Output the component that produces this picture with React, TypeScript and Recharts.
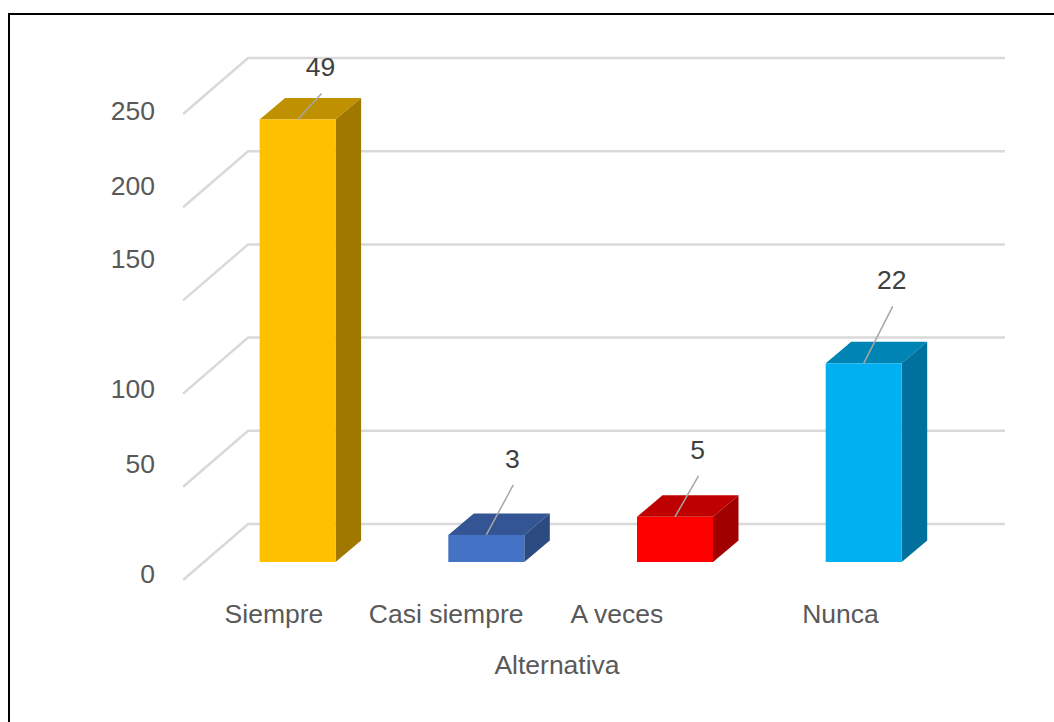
import { Bar, CartesianGrid, ComposedChart, Label, LabelList, Line, XAxis, YAxis } from 'recharts'

const categories = ['Siempre', 'Casi siempre', 'A veces', 'Nunca']
const frecuencia = [49, 3, 5, 22]
const wallTicks = [0, 50, 100, 150, 200, 250]

const faceColors = ['#FFC000', '#4472C4', '#FF0000', '#00B0F0']
const topColors = ['#BF9000', '#335593', '#BF0000', '#0084B4']
const sideColors = ['#A07800', '#2A4A80', '#A00000', '#00719C']

// hand placed labels: how far each one sits from where the axis would put it
const yLabelShift = [50, 33, 51, 15, 35, 53]
const xLabelShift = [-24, -40.5, -58.5, -23.5]
const leaderShift = [
  [24, -26],
  [27, -50],
  [23.5, -41],
  [29, -57],
]

const DEPTH_X = 25.5
const DEPTH_Y = 21.5
const FONT = '"Liberation Sans", Arial, sans-serif'
const FONT_SIZE = 26.5

const data = categories.map((name, i) => ({ name, frecuencia: frecuencia[i] }))

const Column3D = (props: any) => {
  const { x, y, width, height, index } = props
  const right = x + width
  const bottom = y + height
  return (
    <g>
      <polygon
        points={`${x},${y} ${x + DEPTH_X},${y - DEPTH_Y} ${right + DEPTH_X},${y - DEPTH_Y} ${right},${y}`}
        fill={topColors[index]}
      />
      <polygon
        points={`${right},${y} ${right + DEPTH_X},${y - DEPTH_Y} ${right + DEPTH_X},${bottom - DEPTH_Y} ${right},${bottom}`}
        fill={sideColors[index]}
      />
      <rect x={x} y={y} width={width} height={height} fill={faceColors[index]} />
    </g>
  )
}

// back wall line plus the diagonal running forward along the side wall
const WallLine = (props: any) => {
  const { x1, x2, y1 } = props
  const left = Math.min(x1, x2) + 44.5
  const right = Math.max(x1, x2) + 46.5
  return (
    <polyline
      key={y1}
      points={`${left - 65},${y1 + 56} ${left},${y1} ${right},${y1}`}
      fill="none"
      stroke="#D9D9D9"
      strokeWidth={2.5}
    />
  )
}

const Callout = (props: any) => {
  const { x, y, width, value, index } = props
  const cx = x + width / 2
  const [dx, dy] = leaderShift[index]
  return (
    <g>
      <line x1={cx + dx} y1={y + dy} x2={cx} y2={y} stroke="#A6A6A6" strokeWidth={1.5} />
      <text
        x={cx + dx - 1}
        y={y + dy - 26}
        textAnchor="middle"
        dominantBaseline="central"
        fontSize={FONT_SIZE}
        fontFamily={FONT}
        fill="#404040"
      >
        {value}
      </text>
    </g>
  )
}

const WallTick = (props: any) => {
  const { y, payload, index } = props
  return (
    <text
      x={155}
      y={y + yLabelShift[index]}
      textAnchor="end"
      dominantBaseline="central"
      fontSize={FONT_SIZE}
      fontFamily={FONT}
      fill="#595959"
    >
      {payload.value}
    </text>
  )
}

const CategoryTick = (props: any) => {
  const { x, payload, index } = props
  return (
    <text
      x={x + xLabelShift[index]}
      y={614}
      textAnchor="middle"
      dominantBaseline="central"
      fontSize={FONT_SIZE}
      fontFamily={FONT}
      fill="#595959"
    >
      {payload.value}
    </text>
  )
}

export default function App() {
  return (
    <div style={{ position: 'absolute', left: 0, top: 0, width: 1054, height: 722, background: '#fff', overflow: 'hidden' }}>
      <div
        style={{
          position: 'absolute',
          left: 7.5,
          top: 13,
          right: -4,
          bottom: -4,
          borderLeft: '2px solid #000',
          borderTop: '2px solid #000',
        }}
      />
      <ComposedChart
        width={1054}
        height={722}
        data={data}
        margin={{ top: 58, right: 95.6, bottom: 100, left: 0 }}
        style={{ position: 'absolute', left: 0, top: 0 }}
      >
        <CartesianGrid yAxisId="pared" vertical={false} horizontal={WallLine} syncWithTicks />
        <XAxis dataKey="name" height={60} axisLine={false} tickLine={false} interval={0} tick={CategoryTick}>
          <Label
            value="Alternativa"
            content={(p: any) => (
              <text
                x={p.viewBox.x + p.viewBox.width / 2 - 24}
                y={665}
                textAnchor="middle"
                dominantBaseline="central"
                fontSize={FONT_SIZE}
                fontFamily={FONT}
                fill="#595959"
              >
                Alternativa
              </text>
            )}
          />
        </XAxis>
        <YAxis yAxisId="valor" hide domain={[0, 55.8]} />
        <YAxis
          yAxisId="pared"
          width={203.6}
          domain={[-20.4, 250]}
          ticks={wallTicks}
          allowDataOverflow
          axisLine={false}
          tickLine={false}
          tick={WallTick}
          interval={0}
        />
        {/* empty series, it only keeps the wall axis alive */}
        <Line yAxisId="pared" dataKey="pared" stroke="none" dot={false} legendType="none" isAnimationActive={false} />
        <Bar yAxisId="valor" dataKey="frecuencia" barSize={76} shape={Column3D} isAnimationActive={false}>
          <LabelList dataKey="frecuencia" content={Callout} />
        </Bar>
      </ComposedChart>
    </div>
  )
}
